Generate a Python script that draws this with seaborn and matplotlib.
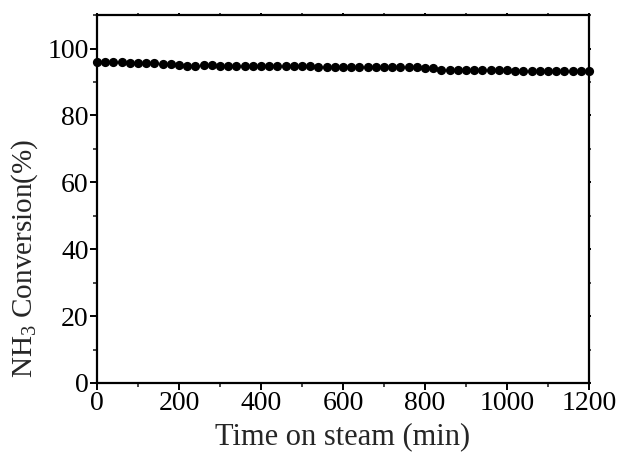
import seaborn as sns
import matplotlib.pyplot as plt
import pandas as pd
import numpy as np
from matplotlib.ticker import MultipleLocator

sns.set_style("ticks")
plt.rcParams['font.family'] = ['Liberation Serif', 'DejaVu Serif']
plt.rcParams['mathtext.fontset'] = 'custom'
plt.rcParams['mathtext.rm'] = 'Liberation Serif'
plt.rcParams['mathtext.it'] = 'Liberation Serif:italic'

# time on steam (min), every 20 min
time_min = list(range(0, 1201, 20))
conversion = [96.0, 96.0, 95.9, 95.9, 95.8, 95.8, 95.7, 95.6, 95.5, 95.3,
              95.0, 94.9, 94.9, 95.0, 95.1, 94.8, 94.7, 94.7, 94.8, 94.8,
              94.9, 94.9, 94.8, 94.8, 94.7, 94.8, 94.7, 94.6, 94.6, 94.6,
              94.6, 94.6, 94.5, 94.6, 94.5, 94.5, 94.5, 94.5, 94.6, 94.4,
              94.3, 94.2, 93.6, 93.7, 93.7, 93.6, 93.6, 93.5, 93.5, 93.5,
              93.5, 93.4, 93.4, 93.4, 93.4, 93.3, 93.3, 93.3, 93.3, 93.3,
              93.2]

df = pd.DataFrame({"time": time_min, "conv": conversion})

fig = plt.figure(figsize=(6.18, 4.57), dpi=100)
ax = fig.add_axes([0.157, 0.162, 0.796, 0.805])

sns.scatterplot(data=df, x="time", y="conv", ax=ax, color="black",
                s=44, edgecolor="black", linewidth=0, clip_on=False, zorder=3)

ax.set_xlim(0, 1200)
ax.set_ylim(0, 110)
ax.xaxis.set_major_locator(MultipleLocator(200))
ax.xaxis.set_minor_locator(MultipleLocator(100))
ax.yaxis.set_major_locator(MultipleLocator(20))
ax.yaxis.set_minor_locator(MultipleLocator(10))

for sp in ax.spines.values():
    sp.set_linewidth(1.6)
    sp.set_color("black")

ax.tick_params(which="major", direction="out", length=5, width=1.4,
               labelsize=20, colors="black", pad=1)
ax.tick_params(which="minor", direction="out", length=3, width=1.2)
ax.tick_params(which="both", top=True, right=True)
for t in ax.xaxis.get_ticklines(minor=False)[1::2] + ax.xaxis.get_ticklines(minor=True)[1::2]:
    t.set_markersize(1.5)
for t in ax.yaxis.get_ticklines(minor=False)[1::2] + ax.yaxis.get_ticklines(minor=True)[1::2]:
    t.set_markersize(1.5)

ax.set_xlabel("Time on steam (min)", fontsize=22, labelpad=4)
ax.set_ylabel("NH$_3$ Conversion(%)", fontsize=21)
ax.yaxis.set_label_coords(-0.115, 0.34)

fig.savefig("out.png", dpi=100)
plt.close()
